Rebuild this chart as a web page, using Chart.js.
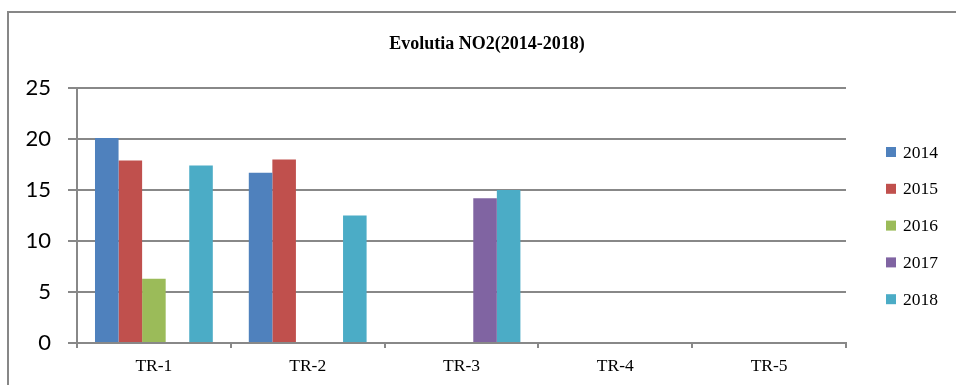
<!DOCTYPE html>
<html>
<head>
<meta charset="utf-8">
<script src="https://cdn.jsdelivr.net/npm/chart.js@4"></script>
<style>
  html, body { margin: 0; padding: 0; background: #fff; }
  #wrap { position: relative; width: 956px; height: 385px; overflow: hidden; }
  #frame { position: absolute; left: 7px; top: 11px; width: 1000px; height: 400px; border: 2px solid #878787; box-sizing: border-box; }
  canvas { position: absolute; left: 0; top: 0; }
</style>
</head>
<body>
<div id="wrap">
  <div id="frame"></div>
  <canvas id="grafic" width="956" height="385"></canvas>
</div>
<script>
// date NO2 pe trimestre
const categorii = ['TR-1', 'TR-2', 'TR-3', 'TR-4', 'TR-5'];
const ani = ['2014', '2015', '2016', '2017', '2018'];
const no2_2014 = [20.1, 16.7, null, null, null];
const no2_2015 = [17.9, 18.0, null, null, null];
const no2_2016 = [6.3, null, null, null, null];
const no2_2017 = [null, null, 14.2, null, null];
const no2_2018 = [17.4, 12.5, 15.0, null, null];
const yTicks = [0, 5, 10, 15, 20, 25];

const culori = ['#4F81BD', '#C0504D', '#9BBB59', '#8064A2', '#4BACC6'];
const serii = [no2_2014, no2_2015, no2_2016, no2_2017, no2_2018];
const titlu = 'Evolutia NO2(2014-2018)';

const gri = '#888888';

// titlu + legenda desenate manual
const extras = {
    id: 'extras',
    afterDraw(chart) {
        const ctx = chart.ctx;
        ctx.save();
        ctx.fillStyle = '#000';
        ctx.font = 'bold 18px "Liberation Serif"';
        ctx.textAlign = 'center';
        ctx.textBaseline = 'middle';
        ctx.fillText(titlu, 487, 44);

        ctx.font = '17.5px "Liberation Serif"';
        ctx.textAlign = 'left';
        chart.data.datasets.forEach((ds, i) => {
            const y = 152 + i * 36.8;
            ctx.fillStyle = ds.backgroundColor;
            ctx.fillRect(886, y - 5, 10, 10);
            ctx.fillStyle = '#000';
            ctx.fillText(ds.label, 903, y + 1);
        });
        ctx.restore();
    }
};

const ctx = document.getElementById('grafic').getContext('2d');
const chart = new Chart(ctx, {
    type: 'bar',
    data: {
        labels: categorii,
        datasets: ani.map((an, i) => ({
            label: an,
            data: serii[i],
            backgroundColor: culori[i],
            borderWidth: 0,
            categoryPercentage: 0.766,
            barPercentage: 1.0
        }))
    },
    options: {
        responsive: false,
        animation: false,
        layout: { padding: { left: 0, right: 110, top: 88, bottom: 0 } },
        plugins: {
            legend: { display: false },
            title: { display: false },
            tooltip: { enabled: false }
        },
        scales: {
            x: {
                grid: { drawOnChartArea: false, drawTicks: true, tickLength: 5, color: gri, lineWidth: 2, offset: true },
                border: { color: gri, width: 2 },
                ticks: { color: '#000', font: { family: 'Liberation Serif', size: 17.5 }, padding: 8, maxRotation: 0 },
                afterFit(scale) { scale.height = 42; }
            },
            y: {
                min: 0,
                max: 25,
                afterBuildTicks(scale) { scale.ticks = yTicks.map(v => ({ value: v })); },
                grid: { color: gri, lineWidth: 2, tickLength: 9 },
                border: { color: gri, width: 2 },
                ticks: { color: '#000', font: { family: 'Lato', size: 22 }, padding: 17 },
                afterFit(scale) { scale.width = 77; }
            }
        }
    },
    plugins: [extras]
});
</script>
</body>
</html>
